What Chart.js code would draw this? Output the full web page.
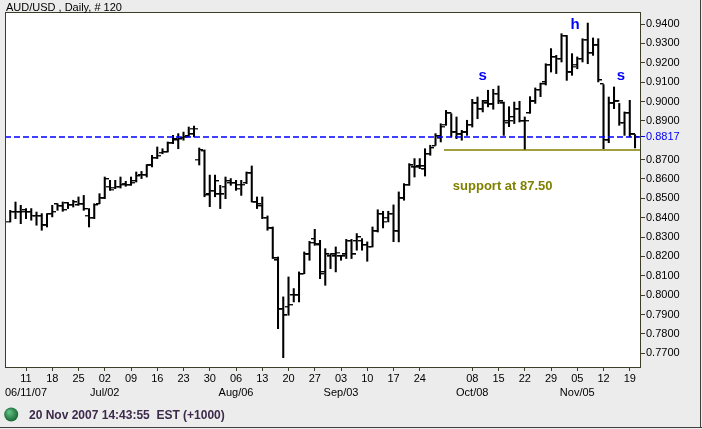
<!DOCTYPE html>
<html>
<head>
<meta charset="utf-8">
<script src="https://cdn.jsdelivr.net/npm/chart.js@4.4.0/dist/chart.umd.min.js"></script>
<style>
  html, body { margin: 0; padding: 0; background: #ececec; }
  canvas { display: block; }
</style>
</head>
<body>
<canvas id="fx" width="702" height="429"></canvas>
<script>
// AUD/USD daily bars, 06 Jun 2007 .. 20 Nov 2007 (120 bars, index 0..119)
const opens = [
  0.8380, 0.8430, 0.8430, 0.8440, 0.8430, 0.8410, 0.8410, 0.8360, 0.8420, 0.8470,
  0.8460, 0.8475, 0.8465, 0.8465, 0.8470, 0.8410, 0.8400, 0.8470, 0.8500, 0.8560,
  0.8555, 0.8560, 0.8575, 0.8570, 0.8590, 0.8620, 0.8620, 0.8670, 0.8710, 0.8735,
  0.8740, 0.8785, 0.8800, 0.8810, 0.8820, 0.8860, 0.8700, 0.8745, 0.8520, 0.8540,
  0.8520, 0.8560, 0.8580, 0.8580, 0.8570, 0.8580, 0.8630, 0.8480, 0.8460, 0.8400,
  0.8345, 0.8180, 0.7927, 0.7940, 0.8000, 0.8000, 0.8110, 0.8210, 0.8290, 0.8260,
  0.8120, 0.8200, 0.8200, 0.8200, 0.8210, 0.8280, 0.8280, 0.8280, 0.8260, 0.8250,
  0.8330, 0.8420, 0.8400, 0.8420, 0.8330, 0.8500, 0.8570, 0.8660, 0.8665, 0.8650,
  0.8730, 0.8770, 0.8810, 0.8880, 0.8940, 0.8840, 0.8830, 0.8840, 0.8880, 0.8990,
  0.8960, 0.8990, 0.8985, 0.9040, 0.8990, 0.8890, 0.8920, 0.8960, 0.8900, 0.8940,
  0.9000, 0.9060, 0.9100, 0.9190, 0.9230, 0.9220, 0.9340, 0.9150, 0.9190, 0.9220,
  0.9320, 0.9250, 0.9290, 0.9090, 0.8801, 0.8990, 0.9000, 0.8890, 0.8940, 0.8830
];
const highs = [
  0.8438, 0.8481, 0.8464, 0.8447, 0.8447, 0.8429, 0.8421, 0.8421, 0.8464, 0.8472,
  0.8481, 0.8478, 0.8490, 0.8507, 0.8515, 0.8447, 0.8472, 0.8524, 0.8610, 0.8593,
  0.8593, 0.8610, 0.8588, 0.8610, 0.8636, 0.8639, 0.8674, 0.8722, 0.8765, 0.8756,
  0.8791, 0.8825, 0.8834, 0.8842, 0.8868, 0.8873, 0.8760, 0.8750, 0.8620, 0.8620,
  0.8567, 0.8610, 0.8602, 0.8593, 0.8593, 0.8636, 0.8667, 0.8507, 0.8507, 0.8409,
  0.8352, 0.8197, 0.7991, 0.8094, 0.8034, 0.8120, 0.8223, 0.8278, 0.8340, 0.8283,
  0.8240, 0.8214, 0.8249, 0.8206, 0.8288, 0.8288, 0.8318, 0.8292, 0.8275, 0.8352,
  0.8441, 0.8433, 0.8433, 0.8466, 0.8533, 0.8576, 0.8679, 0.8705, 0.8705, 0.8756,
  0.8774, 0.8834, 0.8885, 0.8954, 0.8937, 0.8920, 0.8851, 0.8903, 0.9011, 0.9023,
  0.9006, 0.9058, 0.9063, 0.9080, 0.8997, 0.8973, 0.8997, 0.9001, 0.8920, 0.9025,
  0.9070, 0.9095, 0.9195, 0.9273, 0.9238, 0.9350, 0.9341, 0.9247, 0.9230, 0.9324,
  0.9405, 0.9328, 0.9324, 0.9087, 0.9023, 0.9075, 0.8990, 0.8946, 0.9006, 0.8829
];
const lows = [
  0.8378, 0.8395, 0.8369, 0.8395, 0.8387, 0.8361, 0.8335, 0.8352, 0.8404, 0.8438,
  0.8433, 0.8447, 0.8455, 0.8464, 0.8438, 0.8352, 0.8395, 0.8472, 0.8498, 0.8541,
  0.8550, 0.8553, 0.8562, 0.8567, 0.8584, 0.8602, 0.8610, 0.8662, 0.8705, 0.8730,
  0.8739, 0.8782, 0.8756, 0.8800, 0.8817, 0.8817, 0.8672, 0.8508, 0.8457, 0.8508,
  0.8447, 0.8498, 0.8567, 0.8541, 0.8515, 0.8576, 0.8481, 0.8447, 0.8395, 0.8335,
  0.8189, 0.7827, 0.7677, 0.7896, 0.7965, 0.7965, 0.8111, 0.8180, 0.8257, 0.8085,
  0.8051, 0.8137, 0.8120, 0.8180, 0.8189, 0.8189, 0.8232, 0.8232, 0.8175, 0.8249,
  0.8326, 0.8347, 0.8378, 0.8276, 0.8275, 0.8490, 0.8567, 0.8610, 0.8653, 0.8615,
  0.8722, 0.8774, 0.8791, 0.8877, 0.8817, 0.8808, 0.8800, 0.8825, 0.8868, 0.8911,
  0.8946, 0.8972, 0.8960, 0.8989, 0.8825, 0.8870, 0.8886, 0.8894, 0.8751, 0.8939,
  0.8990, 0.9025, 0.9085, 0.9152, 0.9144, 0.9204, 0.9109, 0.9135, 0.9169, 0.9204,
  0.9195, 0.9238, 0.9101, 0.8756, 0.8787, 0.8963, 0.8877, 0.8825, 0.8817, 0.8760
];
const closes = [
  0.8430, 0.8430, 0.8430, 0.8430, 0.8410, 0.8410, 0.8360, 0.8420, 0.8430, 0.8460,
  0.8440, 0.8465, 0.8480, 0.8470, 0.8445, 0.8400, 0.8465, 0.8500, 0.8600, 0.8545,
  0.8560, 0.8570, 0.8570, 0.8580, 0.8615, 0.8620, 0.8670, 0.8710, 0.8720, 0.8740,
  0.8785, 0.8805, 0.8805, 0.8815, 0.8830, 0.8860, 0.8750, 0.8517, 0.8540, 0.8590,
  0.8520, 0.8590, 0.8580, 0.8550, 0.8570, 0.8630, 0.8480, 0.8470, 0.8400, 0.8345,
  0.8190, 0.7927, 0.7895, 0.7950, 0.8000, 0.8110, 0.8210, 0.8270, 0.8265, 0.8110,
  0.8210, 0.8210, 0.8220, 0.8200, 0.8280, 0.8210, 0.8300, 0.8260, 0.8250, 0.8330,
  0.8420, 0.8380, 0.8420, 0.8330, 0.8500, 0.8570, 0.8670, 0.8660, 0.8665, 0.8730,
  0.8760, 0.8820, 0.8870, 0.8940, 0.8840, 0.8830, 0.8840, 0.8880, 0.8990, 0.8960,
  0.9000, 0.8985, 0.9040, 0.9000, 0.8900, 0.8900, 0.8960, 0.8900, 0.8900, 0.9000,
  0.9060, 0.9090, 0.9190, 0.9230, 0.9220, 0.9340, 0.9150, 0.9180, 0.9220, 0.9320,
  0.9250, 0.9290, 0.9110, 0.8801, 0.8990, 0.9000, 0.8890, 0.8940, 0.8830, 0.8817
];

// weekly ticks (Mondays), bar index of each, and their labels
const tickBars = [3, 8, 13, 18, 23, 28, 33, 38, 43, 48, 53, 58, 63, 68, 73, 78, 88, 93, 98, 103, 108, 113, 118];
const tickDays = ['11', '18', '25', '02', '09', '16', '23', '30', '06', '13', '20', '27', '03', '10', '17', '24', '08', '15', '22', '29', '05', '12', '19'];
const tickMonths = ['06/11/07', '', '', 'Jul/02', '', '', '', '', 'Aug/06', '', '', '', 'Sep/03', '', '', '', 'Oct/08', '', '', '', 'Nov/05', '', ''];
const priceTicks = [0.77, 0.78, 0.79, 0.80, 0.81, 0.82, 0.83, 0.84, 0.85, 0.86, 0.87, 0.89, 0.90, 0.91, 0.92, 0.93, 0.94];

const lastPrice = 0.8817;
const supportLevel = 0.8750;
const supportStart = 82.6;
const patternMarks = [ { x: 90.0, y: 0.9132, text: 's' }, { x: 107.6, y: 0.9395, text: 'h' }, { x: 116.3, y: 0.9132, text: 's' } ];

const FONT = '"Liberation Sans", Arial, sans-serif';
const BLUE = '#0000ff';
const OLIVE = '#808000';

// open tick drawn to the left, close tick to the right
function tickImage(left) {
    const c = document.createElement('canvas');
    c.width = 8; c.height = 2;
    const g = c.getContext('2d');
    g.fillStyle = '#000';
    g.fillRect(left ? 0 : 4, 0, 4, 1.4);
    return c;
}

const xMin = -1, xMax = 120.14;

const framePlugin = {
    id: 'frame',
    beforeDraw(chart) {
        const ctx = chart.ctx, a = chart.chartArea;
        ctx.save();
        ctx.fillStyle = '#ececec';
        ctx.fillRect(0, 0, chart.width, chart.height);
        ctx.fillStyle = '#ffffff';
        ctx.fillRect(a.left, a.top, a.right - a.left, a.bottom - a.top);
        ctx.restore();
    },
    afterDatasetsDraw(chart) {
        const ctx = chart.ctx, x = chart.scales.x, y = chart.scales.y;
        ctx.save();
        ctx.textAlign = 'center';
        ctx.textBaseline = 'middle';
        ctx.fillStyle = BLUE;
        ctx.font = 'bold 15px ' + FONT;
        patternMarks.forEach(m => ctx.fillText(m.text, x.getPixelForValue(m.x), y.getPixelForValue(m.y)));
        ctx.fillStyle = OLIVE;
        ctx.textAlign = 'left';
        ctx.font = 'bold 13px ' + FONT;
        ctx.fillText('support at 87.50', x.getPixelForValue(84.3), y.getPixelForValue(0.8559));
        ctx.restore();
    },
    afterDraw(chart) {
        const ctx = chart.ctx, a = chart.chartArea;
        ctx.save();
        ctx.strokeStyle = '#3c3c28';
        ctx.lineWidth = 1;
        ctx.strokeRect(a.left + 0.5, a.top + 0.5, a.right - a.left - 1, a.bottom - a.top);
        // title
        ctx.fillStyle = '#000';
        ctx.font = '11px ' + FONT;
        ctx.textBaseline = 'alphabetic';
        ctx.fillText('AUD/USD , Daily, # 120', 6, 10.5);
        // status line
        const grad = ctx.createRadialGradient(9, 412, 1, 11, 414, 7);
        grad.addColorStop(0, '#5fbf80');
        grad.addColorStop(1, '#1c6b3a');
        ctx.fillStyle = grad;
        ctx.beginPath();
        ctx.arc(11.2, 414.5, 7, 0, Math.PI * 2);
        ctx.fill();
        ctx.fillStyle = '#3c2a4a';
        ctx.font = 'bold 12px ' + FONT;
        ctx.fillText('20 Nov 2007 14:43:55  EST (+1000)', 29, 418.5);
        ctx.strokeStyle = '#404040';
        ctx.beginPath();
        ctx.moveTo(0, 427.5); ctx.lineTo(702, 427.5);
        ctx.moveTo(700.5, 0); ctx.lineTo(700.5, 428);
        ctx.stroke();
        ctx.restore();
    }
};

const idx = opens.map((_, i) => i);

new Chart(document.getElementById('fx'), {
    type: 'bar',
    data: {
        datasets: [
            {
                type: 'line',
                data: [{ x: xMin, y: lastPrice }, { x: xMax, y: lastPrice }],
                borderColor: BLUE, borderWidth: 1.5, borderDash: [6, 3],
                pointRadius: 0, order: 0
            },
            {
                type: 'line',
                data: [{ x: supportStart, y: supportLevel }, { x: xMax, y: supportLevel }],
                borderColor: OLIVE, borderWidth: 1.5,
                pointRadius: 0, order: 0
            },
            {
                type: 'bar',
                data: idx.map(i => ({ x: i, y: [lows[i], highs[i]] })),
                backgroundColor: '#000', barThickness: 1.4, grouped: false, order: 2
            },
            {
                type: 'scatter',
                data: idx.map(i => ({ x: i, y: opens[i] })),
                pointStyle: tickImage(true), pointRadius: 3, order: 1
            },
            {
                type: 'scatter',
                data: idx.map(i => ({ x: i, y: closes[i] })),
                pointStyle: tickImage(false), pointRadius: 3, order: 1
            }
        ]
    },
    options: {
        responsive: false,
        animation: false,
        events: [],
        layout: { padding: { left: 5, top: 12, right: 0, bottom: 0 } },
        plugins: { legend: { display: false }, tooltip: { enabled: false } },
        scales: {
            x: {
                type: 'linear', min: xMin, max: xMax, offset: false,
                afterBuildTicks: s => { s.ticks = tickBars.map(v => ({ value: v })); },
                afterFit: s => { s.height = 62; },
                grid: { offset: false, drawOnChartArea: false, drawTicks: true, tickLength: 4, color: '#3c3c28' },
                border: { display: false },
                ticks: {
                    autoSkip: false, maxRotation: 0, minRotation: 0, padding: 0,
                    color: '#000', font: { family: FONT, size: 11, lineHeight: 1.36 },
                    callback: (v, i) => tickMonths[i] ? [tickDays[i], tickMonths[i]] : tickDays[i]
                }
            },
            y: {
                type: 'linear', position: 'right', min: 0.7629, max: 0.9462,
                afterBuildTicks: s => { s.ticks = priceTicks.concat([lastPrice]).map(v => ({ value: v })); },
                afterFit: s => { s.width = 61; },
                grid: {
                    drawOnChartArea: false, drawTicks: true, tickLength: 4,
                    color: c => c.tick && c.tick.value === lastPrice ? BLUE : '#3c3c28'
                },
                border: { display: false },
                ticks: {
                    padding: 1, font: { family: FONT, size: 11 },
                    color: c => c.tick && c.tick.value === lastPrice ? BLUE : '#000',
                    callback: v => v.toFixed(4)
                }
            }
        }
    },
    plugins: [framePlugin]
});
</script>
</body>
</html>
